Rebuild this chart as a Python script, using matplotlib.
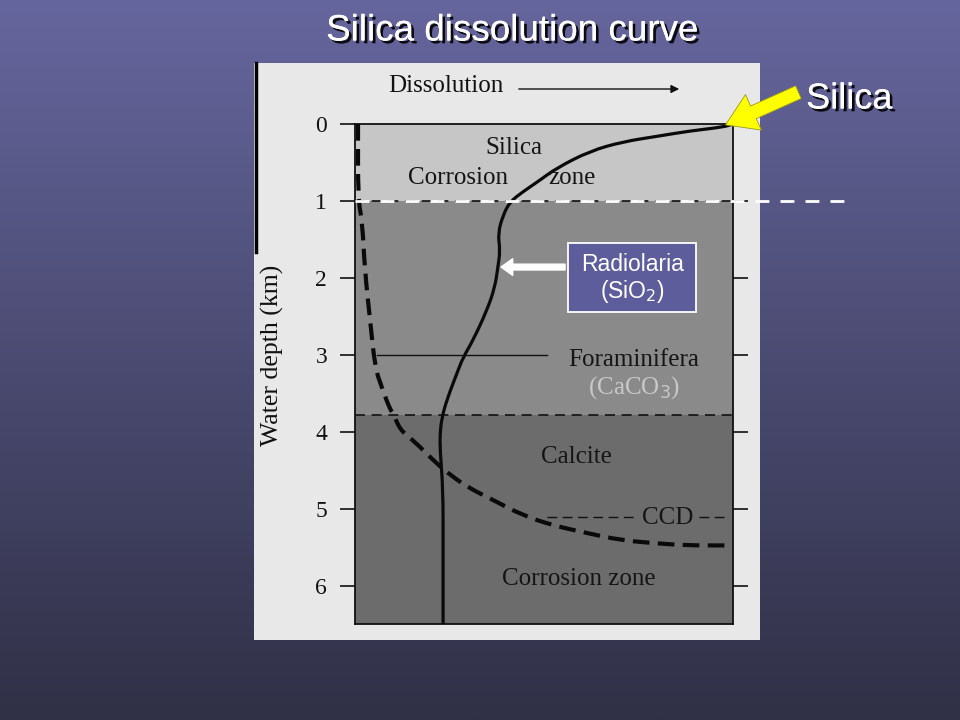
import numpy as np
import matplotlib
matplotlib.use('Agg')
import matplotlib.pyplot as plt
from matplotlib.patches import Rectangle, FancyArrowPatch, PathPatch
from matplotlib.path import Path
import matplotlib.patheffects as pe

# ---------------- data ----------------
depth_ticks = [0, 1, 2, 3, 4, 5, 6]
zone_bounds = [0.0, 1.0, 3.78, 6.49]
zone_colors = ['#c6c6c6', '#8a8a8a', '#6c6c6c']

silica_x = [100, 97.4, 88.6, 79.9, 70.9, 62.2, 53.4, 48.9, 44.4, 41.0, 39.2, 37.8,
            38.4, 37.8, 37.0, 34.9, 31.2, 28.6, 27.0, 24.3, 23.0, 22.5, 22.5, 23.3,
            23.3, 23.3]
silica_depth = [0.0, 0.04, 0.09, 0.16, 0.23, 0.35, 0.57, 0.73, 0.88, 1.01, 1.18, 1.42,
                1.64, 1.86, 2.12, 2.42, 2.81, 3.03, 3.23, 3.58, 3.81, 4.01, 4.23, 4.75,
                5.50, 6.49]

ccd_x = [0.8, 0.8, 1.9, 2.6, 4.0, 5.3, 7.1, 9.3, 10.1, 11.9, 15.3, 20.6, 24.3, 29.6,
         36.5, 44.4, 52.4, 61.4, 70.1, 78.8, 87.8, 98.4]
ccd_depth = [0.0, 0.99, 1.25, 1.90, 2.55, 3.16, 3.42, 3.71, 3.75, 3.97, 4.10, 4.36,
             4.52, 4.71, 4.88, 5.08, 5.21, 5.31, 5.40, 5.44, 5.47, 5.47]

title = 'Silica dissolution curve'
serif = 'Liberation Serif'
sans = 'Liberation Sans'


def smooth_path(xs, ys):
    """Quadratic Bezier path through the midpoints, using the read points as controls."""
    pts = list(zip(xs, ys))
    verts = [pts[0]]
    codes = [Path.MOVETO]
    mid = lambda a, b: ((a[0] + b[0]) / 2, (a[1] + b[1]) / 2)
    verts.append(mid(pts[0], pts[1]))
    codes.append(Path.LINETO)
    for i in range(1, len(pts) - 1):
        verts += [pts[i], mid(pts[i], pts[i + 1])]
        codes += [Path.CURVE3, Path.CURVE3]
    verts.append(pts[-1])
    codes.append(Path.LINETO)
    return Path(verts, codes)


# ---------------- figure ----------------
W, H = 960, 720
fig = plt.figure(figsize=(9.6, 7.2), dpi=100)

bg = fig.add_axes([0, 0, 1, 1], zorder=0)
bg.set_xlim(0, W)
bg.set_ylim(H, 0)
bg.axis('off')
g = np.linspace(0, 1, 256)[:, None, None]
top = np.array([102, 102, 158]) / 255
bot = np.array([48, 48, 70]) / 255
img = top * (1 - g) + bot * g
bg.imshow(img, extent=[0, W, H, 0], aspect='auto', zorder=0)

# paper
bg.add_patch(Rectangle((254, 63), 506, 577, fc='#e8e8e8', ec='none', zorder=1))
bg.plot([256, 256], [63, 252], color='k', lw=2.5, zorder=2)

shadow = [pe.withSimplePatchShadow(offset=(2, -2), shadow_rgbFace='black', alpha=0.9), pe.Normal()]
bg.text(512, 31, title, ha='center', va='center', fontsize=26.5, color='white',
        family=sans, path_effects=shadow, zorder=5)
bg.text(849, 99, 'Silica', ha='center', va='center', fontsize=26, color='white',
        family=sans, path_effects=shadow, zorder=5)

bg.text(446, 86, 'Dissolution', ha='center', va='center', fontsize=18, family=serif,
        color='#111111', zorder=3)
bg.add_patch(FancyArrowPatch((516, 89), (682, 89), arrowstyle='-|>', mutation_scale=12,
                             lw=1.0, color='#111111', zorder=3))

bg.text(272, 355, 'Water depth (km)', rotation=90, ha='center', va='center',
        fontsize=18.5, family=serif, color='#111111', zorder=3)

# ---------------- main panel ----------------
ax = fig.add_axes([355 / W, 1 - 624 / H, 378 / W, 500 / H], zorder=2)
ax.set_xlim(0, 100)
ax.set_ylim(zone_bounds[-1], 0)
for lo, hi, c in zip(zone_bounds[:-1], zone_bounds[1:], zone_colors):
    ax.axhspan(lo, hi, color=c, lw=0, zorder=0)

ax.set_xticks([])
ax.set_yticks(depth_ticks)
ax.set_yticklabels([str(d) for d in depth_ticks], family=serif, fontsize=17, color='#111111')
ax.tick_params(axis='y', direction='out', length=11, width=1.2, pad=9, right=True,
               labelright=False, color='#111111')
for s in ax.spines.values():
    s.set_color('#111111')
    s.set_linewidth(1.3)

# boundaries
ax.axhline(1.0, color='#111111', lw=1.2, dashes=(6, 4), zorder=2)
ax.axhline(3.78, color='#111111', lw=1.2, dashes=(6, 4), zorder=2)
ax.plot([5.8, 50.8], [3, 3], color='#111111', lw=1.0, zorder=2)
ax.plot([50.8, 74.5], [5.1, 5.1], color='#111111', lw=1.0, dashes=(7, 4), zorder=2)
ax.plot([91.0, 98], [5.1, 5.1], color='#111111', lw=1.0, dashes=(7, 4), zorder=2)

# curves
ax.add_patch(PathPatch(smooth_path(silica_x, silica_depth), fill=False, ec='#0a0a0a',
                       lw=2.3, zorder=3, capstyle='butt'))
ax.add_patch(PathPatch(smooth_path(ccd_x, ccd_depth), fill=False, ec='#0a0a0a',
                       lw=3.0, linestyle=(0, (4, 2)), zorder=3))

# labels in panel
tk = dict(family=serif, ha='center', va='center', color='#151515', zorder=4)
ax.text(42.1, 0.31, 'Silica', fontsize=18, **tk)
ax.text(27.2, 0.70, 'Corrosion', fontsize=18, **tk)
ax.text(57.5, 0.70, 'zone', fontsize=18, **tk)
ax.text(73.8, 3.06, 'Foraminifera', fontsize=18, **tk)
ax.text(73.8, 3.42, '(CaCO$_3$)', fontsize=18, family=serif, ha='center', va='center',
        color='#d8d8d8', alpha=0.8, zorder=4)
ax.text(58.5, 4.32, 'Calcite', fontsize=18, **tk)
ax.text(82.8, 5.12, 'CCD', fontsize=18, **tk)
ax.text(59.3, 5.90, 'Corrosion zone', fontsize=18, **tk)

# slide overlays
ax.plot([0, 130.5], [1, 1], color='white', lw=2.0, dashes=(5, 4), clip_on=False, zorder=6)
ax.add_patch(Rectangle((56.3, 1.545), 33.9, 0.9, fc='#5d5d9b', ec='white', lw=1.3, zorder=6))
ax.text(73.3, 1.82, 'Radiolaria', fontsize=16.5, family=sans, color='white', ha='center',
        va='center', zorder=7)
ax.text(73.3, 2.17, '(SiO$_2$)', fontsize=16.5, family=sans, color='white', ha='center',
        va='center', zorder=7)
ax.add_patch(FancyArrowPatch((56.3, 1.857), (37.9, 1.857), arrowstyle='simple,head_length=0.7,head_width=1.0,tail_width=0.35',
                             mutation_scale=12, fc='white', ec='white', zorder=7))

# yellow arrow
ov = fig.add_axes([0, 0, 1, 1], zorder=10)
ov.set_xlim(0, W)
ov.set_ylim(H, 0)
ov.axis('off')
ov.add_patch(FancyArrowPatch((801, 91), (723, 126),
                             arrowstyle='simple,head_length=1.1,head_width=1.4,tail_width=0.5',
                             mutation_scale=20, fc='#ffff00', ec='#9a9a20', lw=0.6, zorder=10))

fig.savefig('out.png', dpi=100)
